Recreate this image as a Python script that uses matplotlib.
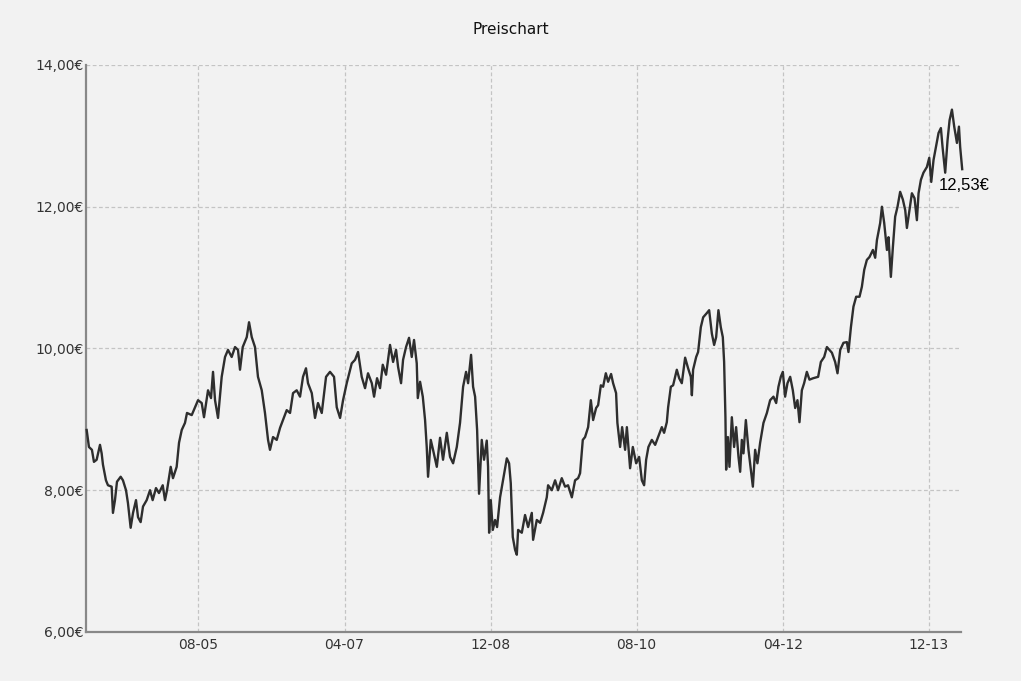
import matplotlib.pyplot as plt

# Zeitachse in Dezimaljahren, Kurs in Euro
years = [
    2004.307, 2004.333, 2004.367, 2004.390, 2004.421, 2004.459, 2004.478, 2004.493, 2004.527, 2004.550,
    2004.592, 2004.607, 2004.630, 2004.653, 2004.695, 2004.721, 2004.756, 2004.778, 2004.809, 2004.836,
    2004.870, 2004.893, 2004.923, 2004.950, 2004.992, 2005.030, 2005.060, 2005.098, 2005.132, 2005.175,
    2005.201, 2005.224, 2005.266, 2005.292, 2005.334, 2005.361, 2005.392, 2005.429, 2005.452, 2005.506,
    2005.543, 2005.578, 2005.620, 2005.646, 2005.692, 2005.726, 2005.749, 2005.772, 2005.806, 2005.848,
    2005.886, 2005.920, 2005.962, 2006.000, 2006.034, 2006.057, 2006.088, 2006.134, 2006.160, 2006.191,
    2006.228, 2006.262, 2006.305, 2006.342, 2006.377, 2006.399, 2006.434, 2006.476, 2006.514, 2006.548,
    2006.590, 2006.628, 2006.662, 2006.704, 2006.742, 2006.776, 2006.810, 2006.833, 2006.876, 2006.913,
    2006.947, 2006.990, 2007.039, 2007.084, 2007.130, 2007.161, 2007.199, 2007.233, 2007.275, 2007.332,
    2007.370, 2007.404, 2007.446, 2007.484, 2007.518, 2007.561, 2007.587, 2007.621, 2007.655, 2007.686,
    2007.724, 2007.769, 2007.804, 2007.838, 2007.861, 2007.895, 2007.918, 2007.952, 2007.986, 2008.017,
    2008.043, 2008.074, 2008.086, 2008.112, 2008.143, 2008.169, 2008.188, 2008.203, 2008.234, 2008.260,
    2008.303, 2008.340, 2008.374, 2008.417, 2008.454, 2008.489, 2008.531, 2008.568, 2008.603, 2008.637,
    2008.660, 2008.694, 2008.717, 2008.740, 2008.763, 2008.785, 2008.816, 2008.842, 2008.873, 2008.888,
    2008.900, 2008.919, 2008.942, 2008.968, 2008.991, 2009.025, 2009.059, 2009.102, 2009.128, 2009.147,
    2009.170, 2009.196, 2009.216, 2009.231, 2009.273, 2009.310, 2009.345, 2009.387, 2009.402, 2009.444,
    2009.482, 2009.516, 2009.558, 2009.573, 2009.615, 2009.653, 2009.687, 2009.729, 2009.767, 2009.801,
    2009.844, 2009.881, 2009.916, 2009.938, 2009.969, 2009.995, 2010.030, 2010.061, 2010.087, 2010.121,
    2010.144, 2010.175, 2010.201, 2010.232, 2010.258, 2010.292, 2010.315, 2010.349, 2010.364, 2010.395,
    2010.418, 2010.452, 2010.472, 2010.509, 2010.540, 2010.578, 2010.612, 2010.643, 2010.669, 2010.692,
    2010.718, 2010.757, 2010.795, 2010.829, 2010.871, 2010.897, 2010.928, 2010.943, 2010.974, 2011.000,
    2011.042, 2011.069, 2011.099, 2011.137, 2011.171, 2011.202, 2011.214, 2011.228, 2011.263, 2011.285,
    2011.316, 2011.343, 2011.385, 2011.411, 2011.442, 2011.468, 2011.491, 2011.517, 2011.544, 2011.567,
    2011.582, 2011.597, 2011.605, 2011.625, 2011.643, 2011.670, 2011.696, 2011.719, 2011.746, 2011.765,
    2011.784, 2011.803, 2011.830, 2011.860, 2011.887, 2011.910, 2011.936, 2011.962, 2011.993, 2012.031,
    2012.070, 2012.107, 2012.145, 2012.176, 2012.202, 2012.229, 2012.252, 2012.278, 2012.305, 2012.336,
    2012.366, 2012.393, 2012.419, 2012.442, 2012.469, 2012.495, 2012.526, 2012.556, 2012.598, 2012.655,
    2012.686, 2012.724, 2012.755, 2012.784, 2012.812, 2012.849, 2012.876, 2012.907, 2012.944, 2012.983,
    2013.001, 2013.029, 2013.058, 2013.089, 2013.127, 2013.154, 2013.181, 2013.211, 2013.241, 2013.280,
    2013.306, 2013.326, 2013.363, 2013.383, 2013.409, 2013.440, 2013.458, 2013.485, 2013.508, 2013.534,
    2013.561, 2013.591, 2013.622, 2013.649, 2013.668, 2013.697, 2013.725, 2013.755, 2013.782, 2013.801,
    2013.828, 2013.857, 2013.896, 2013.923, 2013.946, 2013.972, 2013.999, 2014.029, 2014.056, 2014.075,
    2014.105, 2014.132, 2014.155, 2014.182, 2014.208, 2014.239, 2014.262, 2014.276, 2014.299,
]
prices = [
    8.85, 8.61, 8.57, 8.40, 8.43, 8.64, 8.52, 8.36, 8.14, 8.07,
    8.05, 7.68, 7.86, 8.12, 8.19, 8.14, 8.00, 7.82, 7.47, 7.68,
    7.86, 7.62, 7.55, 7.77, 7.86, 8.00, 7.86, 8.03, 7.96, 8.07,
    7.86, 8.00, 8.33, 8.17, 8.33, 8.67, 8.85, 8.95, 9.09, 9.06,
    9.17, 9.27, 9.23, 9.03, 9.41, 9.30, 9.67, 9.27, 9.02, 9.60,
    9.88, 9.98, 9.88, 10.02, 9.98, 9.70, 10.02, 10.16, 10.37, 10.16,
    10.02, 9.60, 9.41, 9.09, 8.71, 8.57, 8.75, 8.71, 8.88, 8.99,
    9.13, 9.09, 9.37, 9.41, 9.32, 9.60, 9.72, 9.51, 9.37, 9.02,
    9.23, 9.09, 9.60, 9.67, 9.60, 9.17, 9.02, 9.27, 9.51, 9.79,
    9.84, 9.95, 9.60, 9.44, 9.65, 9.51, 9.32, 9.58, 9.44, 9.77,
    9.63, 10.05, 9.81, 9.98, 9.74, 9.51, 9.84, 10.02, 10.15, 9.88,
    10.12, 9.79, 9.30, 9.53, 9.32, 8.99, 8.61, 8.19, 8.71, 8.57,
    8.33, 8.74, 8.43, 8.81, 8.47, 8.38, 8.61, 8.95, 9.46, 9.67,
    9.51, 9.91, 9.46, 9.32, 8.85, 7.95, 8.71, 8.43, 8.70, 8.33,
    7.40, 7.86, 7.44, 7.58, 7.48, 7.90, 8.14, 8.45, 8.38, 8.10,
    7.34, 7.16, 7.09, 7.44, 7.40, 7.65, 7.48, 7.68, 7.30, 7.58,
    7.54, 7.68, 7.90, 8.07, 8.00, 8.14, 8.00, 8.17, 8.05, 8.07,
    7.90, 8.14, 8.17, 8.24, 8.71, 8.75, 8.89, 9.27, 8.99, 9.16,
    9.20, 9.48, 9.46, 9.65, 9.53, 9.64, 9.51, 9.37, 8.95, 8.61,
    8.89, 8.57, 8.89, 8.31, 8.61, 8.38, 8.47, 8.14, 8.07, 8.43,
    8.61, 8.71, 8.64, 8.75, 8.89, 8.81, 8.96, 9.17, 9.46, 9.48,
    9.70, 9.58, 9.51, 9.87, 9.72, 9.60, 9.34, 9.70, 9.88, 9.95,
    10.30, 10.44, 10.50, 10.54, 10.21, 10.05, 10.16, 10.54, 10.30, 10.16,
    9.81, 9.03, 8.29, 8.75, 8.33, 9.03, 8.61, 8.89, 8.47, 8.26,
    8.71, 8.52, 8.99, 8.57, 8.29, 8.05, 8.57, 8.38, 8.67, 8.95,
    9.09, 9.27, 9.32, 9.23, 9.46, 9.60, 9.67, 9.32, 9.51, 9.60,
    9.41, 9.16, 9.27, 8.96, 9.41, 9.51, 9.67, 9.56, 9.58, 9.60,
    9.81, 9.88, 10.02, 9.98, 9.94, 9.81, 9.65, 9.98, 10.08, 10.09,
    9.95, 10.30, 10.59, 10.73, 10.73, 10.87, 11.11, 11.25, 11.29, 11.39,
    11.28, 11.53, 11.77, 12.00, 11.77, 11.39, 11.57, 11.01, 11.43, 11.86,
    12.00, 12.21, 12.10, 11.95, 11.70, 11.95, 12.19, 12.12, 11.81, 12.19,
    12.38, 12.48, 12.56, 12.69, 12.35, 12.66, 12.84, 13.04, 13.11, 12.84,
    12.48, 12.94, 13.22, 13.37, 13.13, 12.90, 13.13, 12.84, 12.53,
]

tick_years = [2005.583, 2007.25, 2008.917, 2010.583, 2012.25, 2013.917]
tick_labels = ["08-05", "04-07", "12-08", "08-10", "04-12", "12-13"]
y_ticks = [6, 8, 10, 12, 14]

bg = "#f2f2f2"
fig = plt.figure(figsize=(10.21, 6.81), dpi=100, facecolor=bg)
ax = fig.add_axes([0.0842, 0.072, 0.857, 0.8326], facecolor=bg)

ax.plot(years, prices, color="#2e2e2e", linewidth=1.7, clip_on=False, zorder=3)

ax.set_xlim(2004.299, 2014.285)
ax.set_ylim(6, 14)
ax.set_xticks(tick_years)
ax.set_xticklabels(tick_labels)
ax.set_yticks(y_ticks)
ax.set_yticklabels([f"{v},00€" for v in y_ticks])

ax.grid(True, color="#c4c4c4", linestyle=(0, (3, 2)), linewidth=0.9)
ax.set_axisbelow(True)

for s in ["top", "right"]:
    ax.spines[s].set_visible(False)
for s in ["left", "bottom"]:
    ax.spines[s].set_color("#888888")
    ax.spines[s].set_linewidth(1.6)

ax.tick_params(axis="both", length=0, labelsize=10, colors="#333333")
ax.tick_params(axis="x", pad=4)
ax.tick_params(axis="y", pad=2)

fig.text(0.5, 0.956, "Preischart", ha="center", va="center", fontsize=11, color="#111111")

last = f"{prices[-1]:.2f}".replace(".", ",") + "€"
ax.annotate(last, (years[-1], prices[-1]), xytext=(-23, -16), textcoords="offset pixels",
            ha="left", va="center", fontsize=12, family="Liberation Sans", color="#000000",
            annotation_clip=False)

fig.savefig("out.png", dpi=100, facecolor=bg)
